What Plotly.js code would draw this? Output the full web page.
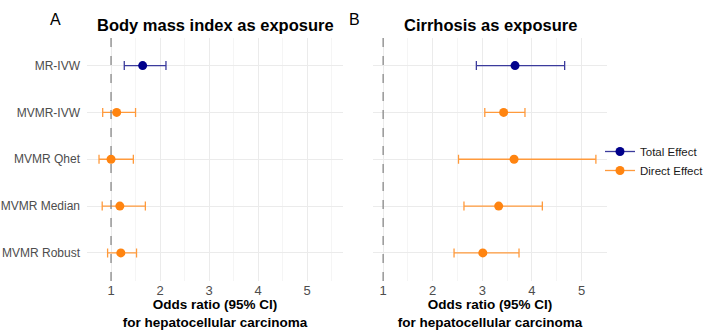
<!DOCTYPE html>
<html><head><meta charset="utf-8">
<script src="https://cdn.plot.ly/plotly-3.0.1.min.js"></script>
<style>html,body{margin:0;padding:0;background:#fff;overflow:hidden}#chart{width:709px;height:330px}</style>
</head><body><div id="chart"></div>
<script>
// ---- data ----
const methods = ["MR-IVW", "MVMR-IVW", "MVMR Qhet", "MVMR Median", "MVMR Robust"];
const effectType = ["Total Effect", "Direct Effect", "Direct Effect", "Direct Effect", "Direct Effect"];
// Panel A: Body mass index as exposure
const bmiOR    = [1.645, 1.115, 1.00, 1.18, 1.20];
const bmiLower = [1.27, 0.83, 0.755, 0.82, 0.93];
const bmiUpper = [2.12, 1.50, 1.455, 1.70, 1.52];
// Panel B: Cirrhosis as exposure
const cirOR    = [3.66, 3.43, 3.64, 3.33, 3.01];
const cirLower = [2.88, 3.05, 2.52, 2.63, 2.43];
const cirUpper = [4.66, 3.86, 5.29, 4.21, 3.74];
const xTicks = [1, 2, 3, 4, 5];
const refValue = 1;
const panelTitles = ["Body mass index as exposure", "Cirrhosis as exposure"];
const panelLetters = ["A", "B"];
const groups = ["Total Effect", "Direct Effect"];

// ---- styles ----
const markerColor = {"Total Effect": "#00008B", "Direct Effect": "#FF8410"};
const barColor = {"Total Effect": "#3B3B9C", "Direct Effect": "#FF9A3C"};
const FONT = "Liberation Sans, Arial, sans-serif";

function pick(arr, g) { return arr.filter((_, i) => effectType[i] === g); }

const traces = [];
const panels = [
  {or: bmiOR, lo: bmiLower, up: bmiUpper, xa: "x", ya: "y"},
  {or: cirOR, lo: cirLower, up: cirUpper, xa: "x2", ya: "y2"}
];
panels.forEach(p => {
  groups.forEach(g => {
    const or = pick(p.or, g), lo = pick(p.lo, g), up = pick(p.up, g);
    traces.push({
      type: "scatter", mode: "markers",
      x: or, y: pick(methods, g),
      xaxis: p.xa, yaxis: p.ya,
      showlegend: false, hoverinfo: "skip",
      marker: {color: markerColor[g], size: 9},
      error_x: {
        type: "data", symmetric: false,
        array: up.map((u, i) => u - or[i]),
        arrayminus: lo.map((l, i) => or[i] - l),
        color: barColor[g], thickness: 1.3, width: 4.5
      }
    });
  });
});
// legend entries
groups.forEach(g => {
  traces.push({
    type: "scatter", mode: "lines+markers", x: [null], y: [null],
    xaxis: "x2", yaxis: "y2", name: g, showlegend: true,
    marker: {color: markerColor[g], size: 9},
    line: {color: barColor[g], width: 1.3}
  });
});

const W = 709, H = 330;
const yDom = [1 - 281 / H, 1 - 37.5 / H];
const xTitle = "Odds ratio (95% CI)<br>for hepatocellular carcinoma";

function xAxis(range, dom, anchor) {
  return {
    domain: dom, range: range, anchor: anchor,
    tickvals: xTicks, ticktext: xTicks.map(String),
    ticks: "", showline: false, zeroline: false,
    showgrid: true, gridcolor: "#EBEBEB", gridwidth: 1,
    minor: {dtick: 0.5, tick0: 0.5, showgrid: true, gridcolor: "#F2F2F2", gridwidth: 0.8},
    tickfont: {family: FONT, size: 13, color: "#4D4D4D"},
    title: {text: xTitle, standoff: 5, font: {family: FONT, size: 13.5, color: "#000", weight: "bold"}},
    automargin: false, fixedrange: true
  };
}
function yAxis(anchor, showLabels) {
  return {
    domain: yDom, anchor: anchor, type: "category",
    categoryarray: methods, range: [4.6, -0.6],
    showticklabels: showLabels, ticks: "", ticklabelstandoff: 6,
    showgrid: true, gridcolor: "#EBEBEB", gridwidth: 1,
    zeroline: false, showline: false,
    tickfont: {family: FONT, size: 12, color: "#4D4D4D"},
    automargin: false, fixedrange: true
  };
}

const layout = {
  width: W, height: H,
  margin: {l: 0, r: 0, t: 0, b: 0, autoexpand: false},
  paper_bgcolor: "#fff", plot_bgcolor: "#fff",
  font: {family: FONT},
  xaxis: xAxis([0.51, 5.73], [87 / W, 343 / W], "y"),
  yaxis: yAxis("x", true),
  xaxis2: xAxis([0.79, 5.52], [372.7 / W, 607.3 / W], "y2"),
  yaxis2: yAxis("x2", false),
  showlegend: true,
  legend: {
    x: 1, y: 1 - 137 / H, xanchor: "right", yanchor: "top",
    font: {family: FONT, size: 11.5, color: "#1A1A1A"},
    bgcolor: "rgba(0,0,0,0)", tracegroupgap: 0
  },
  shapes: ["x", "x2"].map(xa => ({
    type: "line", xref: xa, yref: (xa === "x" ? "y" : "y2") + " domain",
    x0: refValue, x1: refValue, y0: 0, y1: 1,
    line: {color: "#7F7F7F", width: 1.2, dash: "dash"}, layer: "above"
  })),
  annotations: [
    {text: panelTitles[0], xref: "x domain", yref: "paper", x: 0.5, y: 1 - 25 / H,
     showarrow: false, xanchor: "center", yanchor: "middle",
     font: {family: FONT, size: 16.5, color: "#000", weight: "bold"}},
    {text: panelTitles[1], xref: "x2 domain", yref: "paper", x: 0.5, y: 1 - 25 / H,
     showarrow: false, xanchor: "center", yanchor: "middle",
     font: {family: FONT, size: 16.5, color: "#000", weight: "bold"}},
    {text: panelLetters[0], xref: "paper", yref: "paper", x: 55 / W, y: 1 - 19 / H,
     showarrow: false, xanchor: "center", yanchor: "middle",
     font: {family: FONT, size: 16, color: "#000"}},
    {text: panelLetters[1], xref: "paper", yref: "paper", x: 354 / W, y: 1 - 19 / H,
     showarrow: false, xanchor: "center", yanchor: "middle",
     font: {family: FONT, size: 16, color: "#000"}}
  ]
};

Plotly.newPlot("chart", traces, layout, {displayModeBar: false, staticPlot: true});
</script>
</body></html>
